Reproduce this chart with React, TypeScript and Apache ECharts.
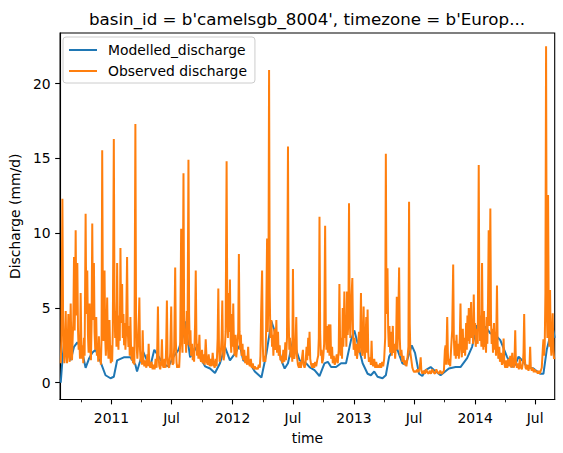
import React, { useEffect, useRef } from "react";
import * as echarts from "echarts";

// ---- time reference: observations are stored as [day offset from 2010-08-01, value] ----
const START_DATE = "2010-08-01";
const X_MIN_DAY = -2;
const X_MAX_DAY = 1489;

// x tick labels (matplotlib concise date style)
const majorTickDates = ["2011-01-01", "2011-07-01", "2012-01-01", "2012-07-01", "2013-01-01", "2013-07-01", "2014-01-01", "2014-07-01"];
const majorTickLabels = ["2011", "Jul", "2012", "Jul", "2013", "Jul", "2014", "Jul"];
const minorTickDates = ["2010-10-01", "2011-04-01", "2011-10-01", "2012-04-01", "2012-10-01", "2013-04-01", "2013-10-01", "2014-04-01"];
const yTicks = [0, 5, 10, 15, 20];
const Y_MIN = -1.12;
const Y_MAX = 23.38;

// ---- Modelled discharge (mm/d) ----
const modelled: [number, number][] = [
  [0, 0], [5, 1.5], [10, 2.7], [20, 2.2], [30, 1.5], [40, 2.4], [50, 2.7], [60, 2.4], [65, 2.0], [75, 1.0],
  [85, 1.6], [95, 2.0], [105, 2.2], [115, 1.7], [125, 1.1], [135, 0.5], [150, 0.3], [160, 0.4], [170, 1.5],
  [190, 1.7], [210, 1.7], [225, 1.2], [230, 0.75], [248, 2.1], [260, 1.5], [270, 1.1], [282, 2.2], [295, 1.75],
  [310, 1.2], [325, 1.1], [340, 1.75], [355, 2.2], [368, 3.1], [375, 4.1], [390, 1.7], [410, 2.4], [425, 1.5],
  [435, 1.1], [450, 0.95], [465, 0.65], [480, 1.3], [495, 2.4], [510, 1.5], [525, 1.95], [540, 2.5], [550, 1.5],
  [570, 1.3], [585, 0.75], [605, 0.35], [620, 1.95], [635, 4.1], [650, 3.1], [665, 1.5], [675, 0.95], [685, 1.3],
  [700, 2.85], [720, 1.5], [740, 1.3], [750, 1.05], [765, 0.85], [780, 0.45], [795, 1.3], [805, 1.4], [815, 1.05],
  [830, 1.05], [845, 1.3], [860, 1.3], [875, 2.85], [885, 3.5], [900, 2.2], [910, 1.3], [925, 0.6], [935, 0.5],
  [945, 0.75], [955, 0.4], [970, 0.3], [980, 0.5], [990, 1.75], [1002, 2.2], [1015, 2.2], [1030, 1.3], [1040, 1.2],
  [1058, 2.5], [1068, 2.0], [1080, 0.6], [1090, 0.45], [1100, 0.85], [1115, 1.05], [1125, 0.85], [1145, 0.5],
  [1170, 0.95], [1190, 1.05], [1205, 1.05], [1225, 1.65], [1240, 2.4], [1255, 3.85], [1270, 3.1], [1280, 3.75],
  [1295, 3.3], [1310, 3.2], [1325, 2.85], [1345, 1.75], [1360, 1.05], [1370, 1.2], [1380, 1.75], [1395, 1.4],
  [1405, 1.05], [1425, 0.95], [1445, 0.6], [1455, 0.6], [1465, 2.2], [1475, 3.1], [1485, 3.5], [1489, 3.0],
];

// ---- Observed discharge (mm/d), by hydrological period ----
const observed2010_11: [number, number][] = [
  [0, 1.3], [2, 2.8], [5, 12.3], [7, 4.5], [9, 2.2], [11, 1.3], [13, 2.5], [15, 4.8], [17, 2.0], [19, 1.3], [21, 2.6],
  [23, 4.6], [25, 1.9], [27, 1.4], [30, 5.3], [32, 2.4], [34, 1.5], [36, 3.0], [38, 4.2], [40, 8.4], [42, 3.5],
  [43, 5.0], [45, 10.2], [47, 4.5], [50, 8.0], [52, 3.6], [54, 2.2], [56, 3.0], [58, 1.6], [60, 6.0], [62, 2.8],
  [64, 1.6], [66, 2.5], [68, 1.3], [70, 3.0], [72, 1.8], [75, 11.3], [77, 4.6], [80, 7.5], [82, 3.2], [84, 2.0],
  [87, 5.3], [89, 2.4], [91, 1.5], [93, 4.0], [95, 10.65], [97, 4.2], [100, 8.0], [102, 3.4], [104, 2.2], [107, 4.4],
  [109, 1.8], [111, 2.6], [113, 1.4], [115, 3.1], [117, 1.6], [119, 2.2], [121, 1.2], [123, 3.0], [125, 15.55],
  [127, 5.0], [129, 2.8], [132, 7.5], [134, 3.0], [136, 1.8], [138, 3.6], [140, 5.7], [142, 2.5], [144, 1.6],
  [147, 4.2], [149, 2.0], [151, 1.3], [153, 2.5], [155, 1.4], [157, 3.5], [160, 16.3], [162, 5.5], [164, 3.0],
  [166, 4.8], [168, 2.4], [170, 8.0], [172, 3.5], [174, 2.2], [176, 4.5], [178, 2.8], [180, 9.0], [182, 4.0],
  [185, 6.6], [187, 3.0], [189, 4.6], [191, 2.5], [193, 4.0], [195, 2.2], [197, 3.4], [200, 8.4], [202, 3.6],
  [204, 2.4], [206, 3.8], [208, 1.8], [210, 4.4], [212, 2.2], [214, 1.5], [216, 2.4], [218, 1.3], [220, 1.8],
  [222, 1.2], [225, 17.3], [227, 4.5], [229, 2.4], [231, 1.6], [234, 3.0], [237, 5.7], [239, 2.2], [241, 1.4],
  [243, 2.0], [245, 1.2], [247, 3.5], [249, 1.6], [252, 1.1], [255, 1.5], [258, 1.0], [261, 1.9], [263, 1.1],
  [265, 2.6], [267, 1.2], [270, 1.0], [274, 1.4], [277, 0.9], [280, 1.2], [283, 0.9], [286, 1.6], [289, 1.0],
  [291, 2.4], [293, 5.1], [295, 1.8], [297, 1.1], [300, 0.9], [303, 1.5], [305, 2.9], [307, 1.2], [310, 1.0],
  [313, 1.6], [316, 1.0], [318, 2.6], [320, 5.5], [322, 1.8], [324, 1.1], [327, 1.0], [330, 2.0], [333, 5.1],
  [335, 1.8], [337, 1.2], [340, 1.3], [342, 2.4], [345, 7.7], [347, 2.8], [349, 1.4], [351, 1.0], [354, 1.2],
  [357, 1.0], [360, 2.6], [363, 10.3], [365, 3.0],
];
const observed2011_12: [number, number][] = [
  [367, 2.0], [370, 14.0], [372, 4.5], [374, 2.6], [376, 3.6], [378, 2.0], [380, 4.8], [382, 2.5], [385, 14.9],
  [387, 4.6], [389, 2.4], [391, 3.5], [393, 1.8], [396, 2.6], [398, 1.5], [400, 2.3], [402, 1.4], [405, 4.0],
  [407, 7.5], [409, 3.0], [411, 1.8], [413, 2.6], [415, 1.6], [418, 3.2], [420, 1.7], [423, 1.4], [426, 2.2],
  [428, 1.3], [431, 1.9], [434, 1.2], [437, 2.9], [440, 1.4], [443, 1.2], [446, 1.9], [449, 1.1], [452, 1.6],
  [455, 1.1], [458, 2.0], [461, 1.2], [464, 1.0], [467, 1.6], [470, 1.1], [473, 3.0], [475, 6.3], [477, 2.4],
  [479, 1.4], [482, 1.8], [485, 3.0], [487, 5.5], [489, 2.2], [491, 1.5], [494, 2.0], [497, 3.4], [500, 14.8],
  [502, 4.8], [504, 3.0], [506, 6.0], [508, 3.4], [510, 6.9], [512, 3.0], [514, 2.0], [516, 4.6], [518, 2.4],
  [520, 5.3], [522, 2.6], [524, 1.8], [527, 3.2], [529, 1.7], [532, 2.4], [535, 3.4], [537, 8.6], [539, 3.4],
  [541, 2.2], [543, 3.2], [545, 1.8], [548, 2.6], [550, 1.5], [553, 2.2], [556, 1.3], [559, 1.8], [562, 1.2],
  [565, 2.4], [567, 1.3], [570, 1.1], [573, 1.6], [576, 1.0], [579, 1.3], [582, 0.9], [585, 1.1], [588, 0.9],
  [591, 1.0], [594, 0.9], [597, 1.2], [600, 1.0], [602, 1.8], [604, 4.6], [607, 7.5], [609, 2.5], [611, 1.4],
  [614, 1.8], [617, 1.4], [619, 3.5], [622, 9.65], [624, 3.4], [626, 5.8], [628, 20.9], [630, 6.0], [632, 3.0],
  [635, 4.2], [637, 2.4], [639, 3.2], [641, 1.8], [644, 3.6], [646, 2.2], [648, 3.0], [650, 4.2], [652, 2.0],
  [655, 3.4], [657, 1.8], [660, 2.5], [662, 1.5], [665, 1.8], [668, 1.3], [671, 2.2], [674, 1.4], [677, 2.7],
  [679, 1.5], [682, 3.0], [685, 15.8], [687, 4.4], [689, 2.2], [691, 3.0], [693, 1.7], [696, 2.4], [698, 1.4],
];
const observed2012_13: [number, number][] = [
  [700, 7.6], [702, 2.8], [704, 1.6], [707, 2.2], [710, 4.4], [712, 1.8], [715, 1.2], [718, 1.0], [721, 1.4],
  [724, 1.0], [727, 1.6], [730, 2.2], [732, 1.2], [735, 1.0], [738, 1.3], [741, 2.4], [743, 1.5], [746, 3.0],
  [748, 1.8], [750, 3.4], [752, 1.6], [755, 1.2], [758, 1.0], [761, 1.3], [764, 1.0], [767, 1.4], [770, 1.1],
  [773, 1.5], [776, 1.8], [778, 3.0], [780, 11.1], [782, 3.4], [784, 1.8], [786, 2.2], [788, 1.3], [791, 1.6],
  [794, 2.6], [797, 10.5], [799, 3.5], [801, 2.2], [803, 3.8], [805, 2.0], [808, 3.9], [810, 1.8], [813, 3.9],
  [815, 1.6], [818, 2.4], [820, 1.3], [823, 1.8], [826, 1.2], [829, 1.5], [832, 1.9], [835, 1.3], [838, 2.2],
  [840, 6.6], [842, 3.0], [844, 1.8], [846, 3.0], [848, 1.6], [850, 5.0], [852, 2.4], [855, 6.1], [857, 3.0],
  [859, 4.5], [861, 2.4], [863, 6.1], [865, 3.2], [867, 4.0], [869, 12.0], [871, 4.6], [873, 3.0], [876, 5.5],
  [879, 7.0], [881, 3.4], [883, 2.2], [886, 3.0], [888, 1.8], [891, 2.6], [893, 1.6], [896, 2.3], [899, 3.4],
  [901, 2.0], [903, 3.0], [905, 6.0], [907, 2.6], [909, 1.8], [911, 2.5], [913, 5.1], [915, 2.2], [917, 1.6],
  [919, 3.0], [921, 4.4], [923, 2.0], [925, 4.9], [927, 2.0], [929, 1.4], [932, 1.7], [935, 1.2], [937, 2.8],
  [939, 1.3], [942, 1.1], [945, 1.6], [948, 1.0], [951, 1.4], [954, 1.0], [957, 1.2], [960, 1.0], [963, 1.3],
  [966, 1.0], [969, 1.4], [972, 1.1], [975, 1.6], [978, 3.0], [980, 15.3], [982, 4.6], [985, 7.65], [987, 3.6],
  [989, 2.4], [991, 3.8], [993, 2.0], [996, 3.4], [998, 1.8], [1001, 3.8], [1003, 2.0], [1006, 2.6], [1008, 1.6],
  [1011, 2.8], [1013, 5.75], [1015, 2.2], [1017, 3.6], [1020, 7.7], [1022, 3.0], [1024, 1.8], [1027, 2.2],
  [1030, 1.4], [1033, 1.8], [1036, 1.2], [1039, 1.5], [1042, 1.1], [1045, 1.6], [1048, 2.4], [1050, 12.1],
  [1052, 4.0], [1054, 2.0], [1057, 1.5],
];
const observed2013_14: [number, number][] = [
  [1060, 1.0], [1063, 0.8], [1066, 0.7], [1069, 0.8], [1072, 0.7], [1075, 0.9], [1078, 0.7], [1082, 1.0],
  [1085, 1.7], [1087, 0.8], [1090, 0.6], [1094, 0.8], [1098, 0.6], [1102, 0.9], [1105, 0.7], [1109, 0.6],
  [1112, 0.8], [1116, 0.6], [1120, 0.9], [1124, 0.7], [1128, 0.6], [1132, 0.9], [1136, 0.7], [1140, 0.6],
  [1144, 0.8], [1148, 0.6], [1152, 0.7], [1155, 0.8], [1158, 2.2], [1160, 2.5], [1162, 1.2], [1165, 4.4],
  [1167, 2.0], [1169, 1.2], [1171, 1.6], [1174, 1.1], [1177, 2.4], [1180, 3.5], [1183, 7.9], [1185, 3.0],
  [1187, 1.8], [1189, 2.8], [1191, 1.6], [1193, 3.2], [1195, 1.8], [1198, 2.6], [1200, 1.6], [1203, 3.0],
  [1205, 5.3], [1207, 2.4], [1209, 1.7], [1212, 3.6], [1214, 2.0], [1217, 3.0], [1219, 1.8], [1222, 4.0],
  [1224, 2.2], [1226, 4.5], [1228, 2.8], [1230, 5.0], [1232, 2.6], [1234, 3.4], [1237, 5.4], [1239, 3.0],
  [1241, 4.0], [1243, 2.6], [1245, 5.9], [1247, 3.2], [1249, 4.0], [1251, 2.4], [1254, 3.6], [1257, 2.6],
  [1260, 14.55], [1262, 4.8], [1264, 2.8], [1266, 4.5], [1268, 2.4], [1270, 8.0], [1272, 3.4], [1274, 2.2],
  [1276, 4.8], [1278, 2.4], [1280, 3.6], [1282, 2.0], [1284, 4.4], [1286, 2.6], [1288, 5.5], [1290, 10.2],
  [1292, 3.8], [1295, 11.65], [1297, 4.2], [1299, 2.6], [1301, 3.6], [1303, 2.0], [1306, 4.0], [1308, 2.2],
  [1310, 3.4], [1312, 1.8], [1315, 6.5], [1317, 2.6], [1319, 1.6], [1322, 2.4], [1324, 1.4], [1327, 2.0],
  [1330, 1.2], [1333, 1.6], [1335, 2.95], [1337, 1.3], [1340, 1.0], [1343, 1.5], [1346, 1.0], [1349, 1.6],
  [1352, 1.1], [1355, 1.8], [1358, 1.0], [1361, 2.0], [1363, 1.2], [1366, 1.0], [1368, 1.6], [1370, 3.5],
  [1372, 1.4], [1375, 1.0], [1378, 1.3], [1381, 0.9], [1384, 1.6], [1387, 1.0], [1390, 0.9], [1393, 1.3],
  [1395, 2.0], [1397, 4.6], [1399, 1.6], [1401, 1.0], [1404, 0.9], [1407, 1.2], [1410, 0.8], [1413, 1.1],
  [1415, 2.4], [1417, 1.0], [1420, 0.8], [1423, 1.0], [1426, 0.7], [1429, 0.9], [1432, 0.7], [1435, 0.8],
  [1438, 0.6], [1441, 0.8], [1444, 0.6], [1447, 0.8], [1450, 1.0], [1453, 2.2], [1455, 2.9], [1457, 1.8],
  [1459, 2.6], [1461, 6.0], [1463, 22.5], [1465, 5.0], [1467, 3.0], [1469, 12.55], [1471, 4.2], [1473, 2.4],
  [1475, 6.2], [1477, 2.6], [1479, 1.8], [1481, 3.0], [1483, 4.65], [1485, 2.2], [1487, 1.6], [1489, 1.7],
];

const FONT = "DejaVu Sans";
const DAY_MS = 86400000;

function utc(dateStr: string): number {
  const [y, m, d] = dateStr.split("-").map(Number);
  return Date.UTC(y, m - 1, d);
}
const startMs = utc(START_DATE);
const toTime = (pts: [number, number][]) => pts.map(([d, v]) => [startMs + d * DAY_MS, v]);

export default function App() {
  const ref = useRef<HTMLDivElement>(null);
  useEffect(() => {
    if (!ref.current) return;
    const chart = echarts.init(ref.current, undefined, { renderer: "svg" });
    const majorVals = majorTickDates.map(utc);
    const minorVals = minorTickDates.map(utc);
    const xMin = startMs + X_MIN_DAY * DAY_MS;
    const xMax = startMs + X_MAX_DAY * DAY_MS;
    const observed = [...observed2010_11, ...observed2011_12, ...observed2012_13, ...observed2013_14];
    chart.setOption({
      animation: false,
      backgroundColor: "#ffffff",
      textStyle: { fontFamily: FONT },
      title: {
        text: "basin_id = b'camelsgb_8004', timezone = b'Europ...",
        left: 302,
        textAlign: "center",
        top: 5,
        textStyle: { fontFamily: FONT, fontSize: 16.7, fontWeight: "normal", color: "#000" },
      },
      legend: {
        orient: "vertical",
        left: 63,
        top: 37,
        padding: [5, 8, 4, 6],
        itemGap: 5,
        itemWidth: 28,
        itemHeight: 2,
        icon: "rect",
        borderColor: "#cccccc",
        borderWidth: 1,
        borderRadius: 3,
        backgroundColor: "rgba(255,255,255,0.8)",
        textStyle: { fontFamily: FONT, fontSize: 13.9, lineHeight: 16, color: "#000", padding: [0, 0, 0, 6] },
        data: ["Modelled_discharge", "Observed discharge"],
      },
      grid: {
        left: 57.6,
        right: 8.3,
        top: 33,
        bottom: 53.5,
        show: true,
        borderColor: "#000",
        borderWidth: 1.1,
        containLabel: false,
      },
      xAxis: [
        {
          type: "value",
          min: xMin,
          max: xMax,
          name: "time",
          nameLocation: "middle",
          nameGap: 31,
          nameTextStyle: { fontFamily: FONT, fontSize: 13.9, color: "#000" },
          axisLine: { show: true, onZero: false, lineStyle: { color: "#000", width: 1.1 } },
          axisTick: { show: true, customValues: majorVals, length: 4.9, lineStyle: { color: "#000", width: 1.1 } },
          axisLabel: {
            customValues: majorVals,
            margin: 11,
            fontFamily: FONT,
            fontSize: 13.9,
            color: "#000",
            formatter: (v: number) => {
              const i = majorVals.indexOf(Number(v));
              return i >= 0 ? majorTickLabels[i] : "";
            },
          },
          splitLine: { show: false },
        },
        {
          type: "value",
          min: xMin,
          max: xMax,
          position: "bottom",
          axisLine: { show: false, onZero: false },
          axisTick: { show: true, customValues: minorVals, length: 2.8, lineStyle: { color: "#000", width: 0.85 } },
          axisLabel: { show: false },
          splitLine: { show: false },
        },
      ],
      yAxis: {
        type: "value",
        min: Y_MIN,
        max: Y_MAX,
        name: "Discharge (mm/d)",
        nameLocation: "middle",
        nameGap: 35,
        nameRotate: 90,
        nameTextStyle: { fontFamily: FONT, fontSize: 13.9, color: "#000" },
        axisLine: { show: true, onZero: false, lineStyle: { color: "#000", width: 1.1 } },
        axisTick: { show: true, customValues: yTicks, length: 4.9, lineStyle: { color: "#000", width: 1.1 } },
        axisLabel: { customValues: yTicks, margin: 9.5, fontFamily: FONT, fontSize: 13.9, color: "#000" },
        splitLine: { show: false },
      },
      series: [
        {
          name: "Modelled_discharge",
          type: "line",
          xAxisIndex: 0,
          data: toTime(modelled),
          showSymbol: false,
          symbol: "none",
          color: "#1f77b4",
          lineStyle: { color: "#1f77b4", width: 2 },
          z: 2,
        },
        {
          name: "Observed discharge",
          type: "line",
          xAxisIndex: 0,
          data: toTime(observed),
          showSymbol: false,
          symbol: "none",
          color: "#ff7f0e",
          lineStyle: { color: "#ff7f0e", width: 2 },
          z: 3,
        },
      ],
    });
    return () => chart.dispose();
  }, []);
  return (
    <div
      ref={ref}
      style={{ position: "fixed", left: 0, top: 0, width: 563, height: 453, background: "#fff" }}
    />
  );
}
